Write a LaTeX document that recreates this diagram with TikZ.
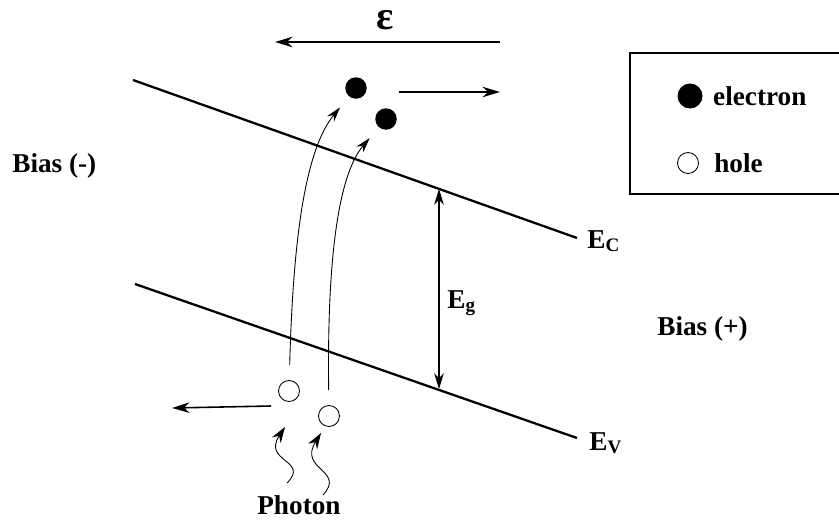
\documentclass[tikz,border=0pt]{standalone}
\usepackage{fontspec}
\setmainfont{Liberation Serif}
\usetikzlibrary{positioning,arrows.meta}

\begin{document}
\begin{tikzpicture}[
    x=0.02cm, y=-0.02cm,
    node distance=0.2cm,
    lbl/.style={font=\bfseries\fontsize{15.5}{18}\selectfont, inner sep=0pt},
    band/.style={line width=1.3pt},
    arrow/.style={->, line width=0.9pt, >={Stealth[length=10pt, width=6pt]}},
    jump/.style={->, line width=0.5pt, >={Stealth[length=8.5pt, width=5pt]},
                 shorten <=0.3cm, shorten >=0.28cm},
    photon/.style={->, line width=0.5pt, >={Stealth[length=9pt, width=6pt]}},
    gap/.style={<->, line width=0.6pt, >={Stealth[length=9pt, width=5.5pt]}},
    electron/.style={circle, fill, inner sep=0pt, minimum size=0.43cm},
    hole/.style={circle, draw, line width=0.5pt, inner sep=0pt, minimum size=0.42cm}
]
\useasboundingbox (0,0) rectangle (839,521);

% Band edges
\coordinate (cb0) at (133,80);
\coordinate (cb1) at (577,238);
\coordinate (vb0) at (135,284);
\coordinate (vb1) at (577,438);
\draw[band] (cb0) -- (cb1);
\draw[band] (vb0) -- (vb1);
\node[lbl, anchor=base west] (ec) at (587,248) {E\textsubscript{C}};
\node[lbl, anchor=base west] (ev) at (589,450) {E\textsubscript{V}};

% Band gap
\coordinate (gtop) at (439,189);
\coordinate (gbot) at (439,389);
\draw[gap] (gtop) -- (gbot);
\node[lbl, anchor=base west] (eg) at (447,308) {E\textsubscript{g}};

% Field
\node[font=\bfseries\fontsize{23}{24}\selectfont, inner sep=0pt] (eps) at (385,20) {ε};
\coordinate (f0) at (500,42);
\coordinate (f1) at (275,42);
\draw[arrow] (f0) -- (f1);

% Bias labels
\node[lbl, anchor=base west] (bneg) at (12,172) {Bias (-)};
\node[lbl, anchor=base west] (bpos) at (657,335) {Bias (+)};

% Carriers
\node[electron] (e1) at (356,88) {};
\node[electron] (e2) at (386,119) {};
\node[hole] (h1) at (289,391) {};
\node[hole] (h2) at (329,416) {};

\coordinate (e0) at (399,92);
\coordinate (e3) at (500,92);
\draw[arrow] (e0) -- (e3);
\coordinate (h0) at (271,406);
\coordinate (h3) at (172,408);
\draw[arrow] (h0) -- (h3);

% Excitation
\draw[jump] (h1) .. controls (293,240) and (305,150) .. (e1);
\draw[jump] (h2) .. controls (327,260) and (338,175) .. (e2);

% Photons
\coordinate (p1) at (287,483);
\coordinate (p1t) at (285,427);
\coordinate (p2) at (323,495);
\coordinate (p2t) at (321,433);
\draw[photon] (p1) .. controls (310,460) and (262,462) .. (p1t);
\draw[photon] (p2) .. controls (346,470) and (298,470) .. (p2t);
\node[lbl, anchor=base west] (ph) at (257,514) {Photon};

% Legend
\draw[line width=0.8pt] (839,53) -| (630,194) -- (839,194);
\node[electron, minimum size=0.5cm] (le) at (690,96) {};
\node[lbl, right=0.2cm of le] (lel) {electron};
\node[hole, minimum size=0.42cm] (lh) at (688,163) {};
\node[lbl, right=0.3cm of lh] (lhl) {hole};

\end{tikzpicture}
\end{document}
